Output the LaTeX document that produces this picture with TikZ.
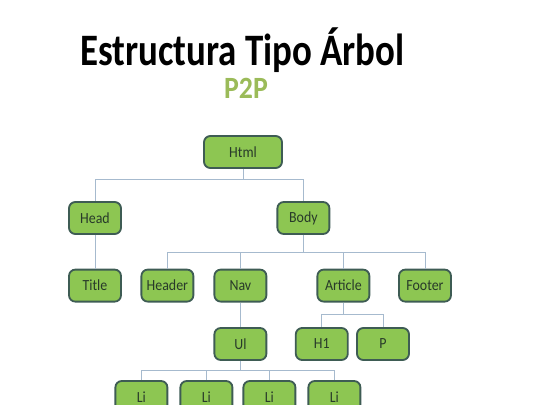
\documentclass[tikz,border=0pt]{standalone}
\usepackage{fontspec}
\setmainfont{Carlito}
\newfontfamily\tagfont[FakeStretch=0.9]{Carlito}
\usetikzlibrary{positioning}
\definecolor{leafgreen}{RGB}{141,198,82}
\definecolor{leafborder}{RGB}{62,92,84}
\definecolor{leaftext}{RGB}{40,58,42}
\definecolor{linkblue}{RGB}{166,186,206}
\definecolor{ptwopgreen}{RGB}{155,187,89}
\tikzstyle{tag}=[rectangle, rounded corners=4.5pt, draw=leafborder, line width=1.3pt, fill=leafgreen, text=leaftext, minimum width=1.3cm, minimum height=0.8cm, inner sep=0pt, font=\tagfont\fontsize{11}{13}\selectfont]
\tikzstyle{roottag}=[tag, minimum width=1.95cm]
\tikzstyle{link}=[draw=linkblue, line width=0.6pt]

\begin{document}
\begin{tikzpicture}
\useasboundingbox (0,0) rectangle (13.5,-10.125);

\node[anchor=base](titulo) at (6.06,-1.625){\scalebox{0.82}[1]{\fontsize{32}{36}\selectfont\bfseries Estructura Tipo Árbol}};
\node[anchor=base, text=ptwopgreen](subtitulo) at (6.15,-2.45){\scalebox{0.9}[1]{\fontsize{22}{24}\selectfont\bfseries P2P}};

\node[roottag](Html) at (6.075,-3.8){Html};
\node[tag](Head)[below of = Html, xshift=-3.7cm, yshift=-0.65cm]{Head};
\node[tag](Body)[below of = Html, xshift=1.51cm, yshift=-0.65cm]{Body};
\node[tag](Title)[below of = Head, yshift=-0.69cm]{Title};
\node[tag](Header)[below of = Body, xshift=-3.4cm, yshift=-0.69cm]{Header};
\node[tag](Nav)[below of = Body, xshift=-1.575cm, yshift=-0.69cm]{Nav};
\node[tag](Article)[below of = Body, xshift=1cm, yshift=-0.69cm]{Article};
\node[tag](Footer)[below of = Body, xshift=3.04cm, yshift=-0.69cm]{Footer};
\node[tag](Ul)[below of = Nav, yshift=-0.46cm]{Ul};
\node[tag](H1)[below of = Article, xshift=-0.54cm, yshift=-0.46cm]{H1};
\node[tag](P)[below of = Article, xshift=0.99cm, yshift=-0.46cm]{P};
\node[tag](LiA)[below of = Ul, xshift=-2.475cm, yshift=-0.325cm]{Li};
\node[tag](LiB)[below of = Ul, xshift=-0.85cm, yshift=-0.325cm]{Li};
\node[tag](LiC)[below of = Ul, xshift=0.725cm, yshift=-0.325cm]{Li};
\node[tag](LiD)[below of = Ul, xshift=2.35cm, yshift=-0.325cm]{Li};

\path[link] (Html.south) -- ++(0,-0.275) -| (Head.north);
\path[link] (Html.south) -- ++(0,-0.275) -| (Body.north);
\path[link] (Head)edge(Title);
\path[link] (Body.south) -- ++(0,-0.45) -| (Header.north);
\path[link] (Body.south) -- ++(0,-0.45) -| (Nav.north);
\path[link] (Body.south) -- ++(0,-0.45) -| (Article.north);
\path[link] (Body.south) -- ++(0,-0.45) -| (Footer.north);
\path[link] (Nav)edge(Ul);
\path[link] (Article.south) -- ++(0,-0.3) -| (H1.north);
\path[link] (Article.south) -- ++(0,-0.3) -| (P.north);
\path[link] (Ul.south) -- ++(0,-0.25) -| (LiA.north);
\path[link] (Ul.south) -- ++(0,-0.25) -| (LiB.north);
\path[link] (Ul.south) -- ++(0,-0.25) -| (LiC.north);
\path[link] (Ul.south) -- ++(0,-0.25) -| (LiD.north);

\end{tikzpicture}
\end{document}
